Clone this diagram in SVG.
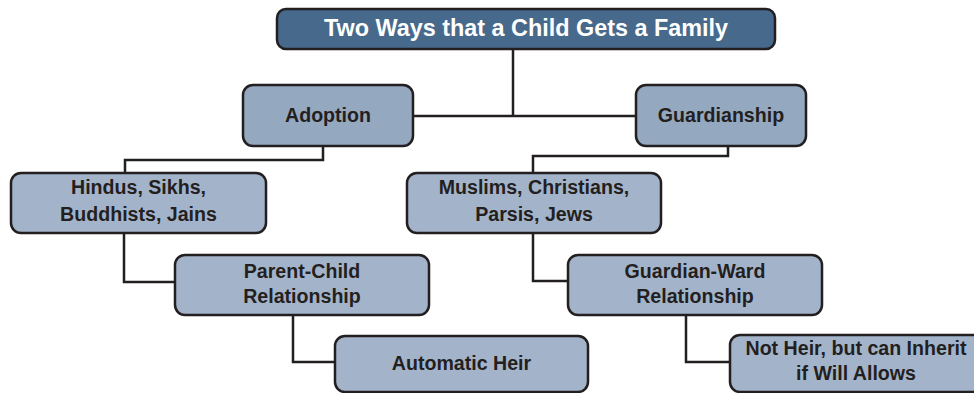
<svg xmlns="http://www.w3.org/2000/svg" width="974" height="393" viewBox="0 0 974 393">
<style>
.box{stroke:#231f20;stroke-width:2.5}
.l1{fill:#94a8c0}
.l2{fill:#a3b4ca}
.title{fill:#476a8c}
.t{font-family:"Liberation Sans",Arial,sans-serif;font-weight:bold;font-size:19.6px;fill:#231f20;text-anchor:middle}
.tt{font-family:"Liberation Sans",Arial,sans-serif;font-weight:bold;font-size:23.4px;fill:#ffffff;text-anchor:middle}
.c{fill:none;stroke:#231f20;stroke-width:2.5}
</style>
<rect width="974" height="393" fill="#ffffff"/>
<g id="connectors">
<path class="c" d="M513,49 V116"/>
<path class="c" d="M413,116 H636"/>
<path class="c" d="M323,146 V160 H125 V173"/>
<path class="c" d="M728,146 V156 H533 V173"/>
<path class="c" d="M124,233 V282 H175"/>
<path class="c" d="M533,233 V281 H568"/>
<path class="c" d="M293,315 V362 H335"/>
<path class="c" d="M686,315 V362 H730"/>
</g>
<g id="title">
<rect class="box title" x="277" y="9" width="498" height="40" rx="9"/>
<text class="tt" x="526" y="36">Two Ways that a Child Gets a Family</text>
</g>
<g id="adoption">
<rect class="box l1" x="243" y="85" width="170" height="61" rx="10"/>
<text class="t" x="328" y="122">Adoption</text>
</g>
<g id="guardianship">
<rect class="box l1" x="636" y="85" width="170" height="61" rx="10"/>
<text class="t" x="721" y="122">Guardianship</text>
</g>
<g id="hindus">
<rect class="box l2" x="11" y="173" width="255" height="60" rx="10"/>
<text class="t" x="138.5" y="194">Hindus, Sikhs,</text>
<text class="t" x="138.5" y="221">Buddhists, Jains</text>
</g>
<g id="muslims">
<rect class="box l2" x="407" y="173" width="254" height="60" rx="10"/>
<text class="t" x="534" y="194">Muslims, Christians,</text>
<text class="t" x="534" y="221">Parsis, Jews</text>
</g>
<g id="parent-child">
<rect class="box l2" x="175" y="255" width="254" height="60" rx="10"/>
<text class="t" x="302" y="278">Parent-Child</text>
<text class="t" x="302" y="303">Relationship</text>
</g>
<g id="guardian-ward">
<rect class="box l2" x="568" y="255" width="254" height="60" rx="10"/>
<text class="t" x="695" y="278">Guardian-Ward</text>
<text class="t" x="695" y="303">Relationship</text>
</g>
<g id="automatic-heir">
<rect class="box l2" x="335" y="336" width="253" height="56" rx="10"/>
<text class="t" x="461.5" y="370">Automatic Heir</text>
</g>
<g id="not-heir">
<rect class="box l2" x="730" y="335" width="253" height="57" rx="10"/>
<text class="t" x="856" y="355">Not Heir, but can Inherit</text>
<text class="t" x="856" y="380">if Will Allows</text>
</g>
</svg>
